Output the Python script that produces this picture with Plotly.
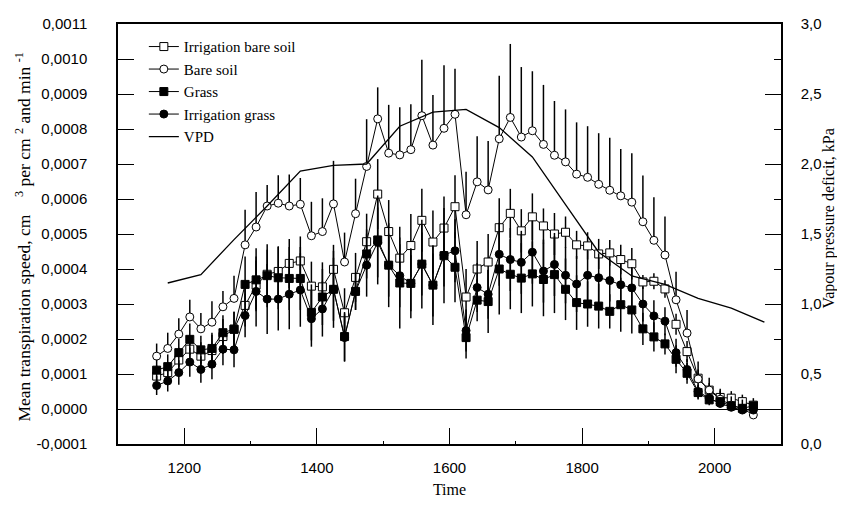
import plotly.graph_objects as go

# Time (hours*100), measurements every 10 minutes from 11:35 to 20:35
time = [1158.3, 1175.0, 1191.7, 1208.3, 1225.0, 1241.7, 1258.3, 1275.0, 1291.7, 1308.3,
        1325.0, 1341.7, 1358.3, 1375.0, 1391.7, 1408.3, 1425.0, 1441.7, 1458.3, 1475.0,
        1491.7, 1508.3, 1525.0, 1541.7, 1558.3, 1575.0, 1591.7, 1608.3, 1625.0, 1641.7,
        1658.3, 1675.0, 1691.7, 1708.3, 1725.0, 1741.7, 1758.3, 1775.0, 1791.7, 1808.3,
        1825.0, 1841.7, 1858.3, 1875.0, 1891.7, 1908.3, 1925.0, 1941.7, 1958.3, 1975.0,
        1991.7, 2008.3, 2025.0, 2041.7, 2058.3]

irrigation_bare_soil = [0.000094, 0.000104, 0.000140, 0.000171, 0.000151, 0.000167, 0.000207, 0.000228, 0.000296, 0.000354,
                        0.000385, 0.000393, 0.000416, 0.000423, 0.000351, 0.000349, 0.000399, 0.000275, 0.000376, 0.000478,
                        0.000614, 0.000507, 0.000431, 0.000467, 0.000539, 0.000477, 0.000517, 0.000578, 0.000320, 0.000400,
                        0.000420, 0.000518, 0.000559, 0.000509, 0.000549, 0.000523, 0.000500, 0.000505, 0.000469, 0.000466,
                        0.000443, 0.000446, 0.000427, 0.000415, 0.000363, 0.000365, 0.000343, 0.000242, 0.000164, 0.000088,
                        0.000054, 0.000033, 0.000031, 0.000021, 0.000011]
irrigation_bare_soil_err = [0.000030, 0.000030, 0.000035, 0.000040, 0.000040, 0.000045, 0.000050, 0.000050, 0.000060, 0.000070,
                            0.000070, 0.000070, 0.000070, 0.000070, 0.000070, 0.000070, 0.000070, 0.000070, 0.000070, 0.000080,
                            0.000100, 0.000090, 0.000090, 0.000090, 0.000090, 0.000090, 0.000090, 0.000090, 0.000080, 0.000080,
                            0.000080, 0.000084, 0.000070, 0.000062, 0.000067, 0.000050, 0.000060, 0.000045, 0.000040, 0.000039,
                            0.000043, 0.000037, 0.000042, 0.000045, 0.000020, 0.000023, 0.000025, 0.000030, 0.000030, 0.000025,
                            0.000020, 0.000020, 0.000020, 0.000020, 0.000020]

bare_soil = [0.000151, 0.000173, 0.000214, 0.000263, 0.000229, 0.000248, 0.000292, 0.000316, 0.000469, 0.000520,
             0.000580, 0.000588, 0.000580, 0.000585, 0.000495, 0.000507, 0.000586, 0.000420, 0.000558, 0.000693,
             0.000829, 0.000731, 0.000726, 0.000741, 0.000838, 0.000754, 0.000802, 0.000842, 0.000555, 0.000649,
             0.000626, 0.000772, 0.000833, 0.000777, 0.000795, 0.000756, 0.000725, 0.000706, 0.000671, 0.000662,
             0.000642, 0.000625, 0.000609, 0.000591, 0.000535, 0.000482, 0.000440, 0.000312, 0.000217, 0.000086,
             0.000054, 0.000028, 0.000011, 0.000002, -0.000017]
bare_soil_err = [0.000036, 0.000045, 0.000045, 0.000049, 0.000045, 0.000060, 0.000045, 0.000065, 0.000100, 0.000100,
                 0.000060, 0.000080, 0.000090, 0.000075, 0.000097, 0.000095, 0.000123, 0.000084, 0.000100, 0.000135,
                 0.000090, 0.000138, 0.000136, 0.000130, 0.000160, 0.000143, 0.000180, 0.000130, 0.000123, 0.000130,
                 0.000140, 0.000180, 0.000210, 0.000200, 0.000170, 0.000170, 0.000155, 0.000150, 0.000148, 0.000146,
                 0.000146, 0.000150, 0.000134, 0.000140, 0.000132, 0.000123, 0.000110, 0.000080, 0.000066, 0.000050,
                 0.000035, 0.000030, 0.000025, 0.000025, 0.000030]

grass = [0.000111, 0.000121, 0.000161, 0.000199, 0.000169, 0.000173, 0.000218, 0.000228, 0.000356, 0.000369,
         0.000381, 0.000375, 0.000373, 0.000373, 0.000276, 0.000320, 0.000342, 0.000207, 0.000336, 0.000443,
         0.000483, 0.000411, 0.000360, 0.000359, 0.000414, 0.000354, 0.000438, 0.000405, 0.000204, 0.000311,
         0.000307, 0.000400, 0.000385, 0.000374, 0.000386, 0.000370, 0.000384, 0.000342, 0.000304, 0.000300,
         0.000294, 0.000279, 0.000298, 0.000283, 0.000229, 0.000206, 0.000186, 0.000142, 0.000102, 0.000047,
         0.000026, 0.000021, 0.000009, 0.000002, 0.000009]
grass_err = [0.000030, 0.000035, 0.000040, 0.000045, 0.000040, 0.000045, 0.000050, 0.000050, 0.000080, 0.000090,
             0.000090, 0.000090, 0.000090, 0.000090, 0.000080, 0.000080, 0.000090, 0.000070, 0.000053, 0.000070,
             0.000127, 0.000120, 0.000130, 0.000100, 0.000127, 0.000114, 0.000136, 0.000100, 0.000060, 0.000060,
             0.000090, 0.000130, 0.000100, 0.000100, 0.000093, 0.000105, 0.000110, 0.000088, 0.000078, 0.000065,
             0.000064, 0.000049, 0.000077, 0.000067, 0.000046, 0.000042, 0.000030, 0.000040, 0.000030, 0.000020,
             0.000015, 0.000012, 0.000010, 0.000010, 0.000010]

irrigation_grass = [0.000067, 0.000080, 0.000104, 0.000134, 0.000113, 0.000128, 0.000171, 0.000169, 0.000267, 0.000336,
                    0.000314, 0.000314, 0.000328, 0.000340, 0.000258, 0.000286, 0.000342, 0.000204, 0.000336, 0.000411,
                    0.000476, 0.000411, 0.000381, 0.000359, 0.000414, 0.000354, 0.000440, 0.000452, 0.000224, 0.000347,
                    0.000328, 0.000442, 0.000427, 0.000419, 0.000448, 0.000394, 0.000413, 0.000382, 0.000357, 0.000382,
                    0.000375, 0.000367, 0.000355, 0.000346, 0.000300, 0.000266, 0.000251, 0.000161, 0.000113, 0.000050,
                    0.000031, 0.000016, 0.000005, -0.000003, -0.000003]
irrigation_grass_err = [0.000027, 0.000030, 0.000035, 0.000042, 0.000038, 0.000043, 0.000046, 0.000050, 0.000062, 0.000100,
                        0.000100, 0.000090, 0.000100, 0.000105, 0.000080, 0.000079, 0.000110, 0.000069, 0.000053, 0.000090,
                        0.000100, 0.000090, 0.000090, 0.000080, 0.000090, 0.000090, 0.000090, 0.000090, 0.000060, 0.000070,
                        0.000070, 0.000090, 0.000090, 0.000090, 0.000090, 0.000090, 0.000090, 0.000080, 0.000080, 0.000070,
                        0.000070, 0.000060, 0.000060, 0.000060, 0.000050, 0.000045, 0.000040, 0.000040, 0.000030, 0.000020,
                        0.000015, 0.000012, 0.000010, 0.000010, 0.000010]

vpd_time = [1175, 1225, 1275, 1325, 1375, 1425, 1475, 1525, 1575, 1625,
            1675, 1725, 1775, 1825, 1875, 1925, 1975, 2025, 2075]
vpd = [1.15, 1.21, 1.46, 1.70, 1.95, 1.99, 2.00, 2.27, 2.37, 2.39,
       2.26, 2.05, 1.71, 1.37, 1.20, 1.14, 1.04, 0.97, 0.87]

left_tick_vals = [-0.0001, 0.0, 0.0001, 0.0002, 0.0003, 0.0004, 0.0005, 0.0006,
                  0.0007, 0.0008, 0.0009, 0.0010, 0.0011]
left_tick_text = ["-0,0001", "0,0000", "0,0001", "0,0002", "0,0003", "0,0004", "0,0005",
                  "0,0006", "0,0007", "0,0008", "0,0009", "0,0010", "0,0011"]
right_tick_vals = [0.0, 0.5, 1.0, 1.5, 2.0, 2.5, 3.0]
right_tick_text = ["0,0", "0,5", "1,0", "1,5", "2,0", "2,5", "3,0"]
x_tick_vals = [1200, 1400, 1600, 1800, 2000]

SERIF = "Liberation Serif"
SANS = "Liberation Sans"
NB = "\u00a0"

left_title = ("Mean transpiration speed, cm" + NB * 4 + "<sup>3</sup>" + NB + "per cm" + NB
              + "<sup>2</sup>" + NB + "and min" + NB + "<sup>-1</sup>")
right_title = "Vapour pressure deficit, kPa"

fig = go.Figure()


def add_series(name, y, err, symbol, fill, minus=True):
    fig.add_trace(go.Scatter(
        x=time, y=y, name=name, mode="lines+markers",
        line=dict(color="black", width=1),
        marker=dict(symbol=symbol, size=8, color=fill, line=dict(color="black", width=1)),
        error_y=dict(type="data", array=err, arrayminus=(err if minus else [0] * len(err)),
                     symmetric=False, color="black", thickness=1.5, width=0),
    ))


add_series("Irrigation bare soil", irrigation_bare_soil, irrigation_bare_soil_err, "square", "white")
add_series("Bare soil", bare_soil, bare_soil_err, "circle", "white", minus=False)
add_series("Grass", grass, grass_err, "square", "black")
add_series("Irrigation grass", irrigation_grass, irrigation_grass_err, "circle", "black")

fig.add_trace(go.Scatter(
    x=vpd_time, y=vpd, name="VPD", mode="lines", yaxis="y2",
    line=dict(color="black", width=1.3),
))

# page body has an 8px margin, so the figure is offset by (8, 8) inside the window
fig.update_layout(
    width=837, height=501,
    margin=dict(l=110, r=64, t=16, b=65, autoexpand=False),
    paper_bgcolor="white", plot_bgcolor="white",
    showlegend=True,
    legend=dict(x=0.039, y=0.985, xanchor="left", yanchor="top",
                font=dict(family=SERIF, size=15, color="black"),
                bgcolor="rgba(0,0,0,0)", tracegroupgap=0, itemwidth=30),
    xaxis=dict(
        range=[1100, 2100], tickvals=x_tick_vals, ticks="inside", ticklen=16,
        tickcolor="black", tickwidth=1,
        minor=dict(dtick=100, ticks="inside", ticklen=3, tickcolor="black"),
        showline=True, linecolor="black", linewidth=1.5, mirror=True,
        showgrid=False, zeroline=False, automargin=False,
        tickfont=dict(family=SANS, size=15, color="black"),
        ticklabelstandoff=9,
        title=dict(text="Time", font=dict(family=SERIF, size=16, color="black"), standoff=9),
    ),
    yaxis=dict(
        range=[-0.0001, 0.0011], tickvals=left_tick_vals, ticktext=left_tick_text,
        ticks="inside", ticklen=16, tickcolor="black", tickwidth=1,
        showline=True, linecolor="black", linewidth=1.5, mirror=False,
        showgrid=False, zeroline=True, zerolinecolor="black", zerolinewidth=1.3,
        automargin=False,
        tickfont=dict(family=SANS, size=15, color="black"),
        ticklabelstandoff=26,
    ),
    yaxis2=dict(
        range=[0, 3.0], overlaying="y", side="right",
        tickvals=right_tick_vals, ticktext=right_tick_text,
        ticks="inside", ticklen=16, tickcolor="black", tickwidth=1,
        minor=dict(dtick=0.25, ticks="inside", ticklen=7, tickcolor="black"),
        showline=True, linecolor="black", linewidth=1.5,
        showgrid=False, zeroline=False, automargin=False,
        tickfont=dict(family=SANS, size=15, color="black"),
        ticklabelstandoff=15,
    ),
    annotations=[
        dict(text=left_title, xref="paper", yref="paper", x=-0.143, y=0.492,
             xanchor="center", yanchor="middle", textangle=-90, showarrow=False,
             font=dict(family=SERIF, size=17.5, color="black")),
        dict(text=right_title, xref="paper", yref="paper", x=1.072, y=0.536,
             xanchor="center", yanchor="middle", textangle=-90, showarrow=False,
             font=dict(family=SERIF, size=16, color="black")),
    ],
)

fig.write_html("out.html")
